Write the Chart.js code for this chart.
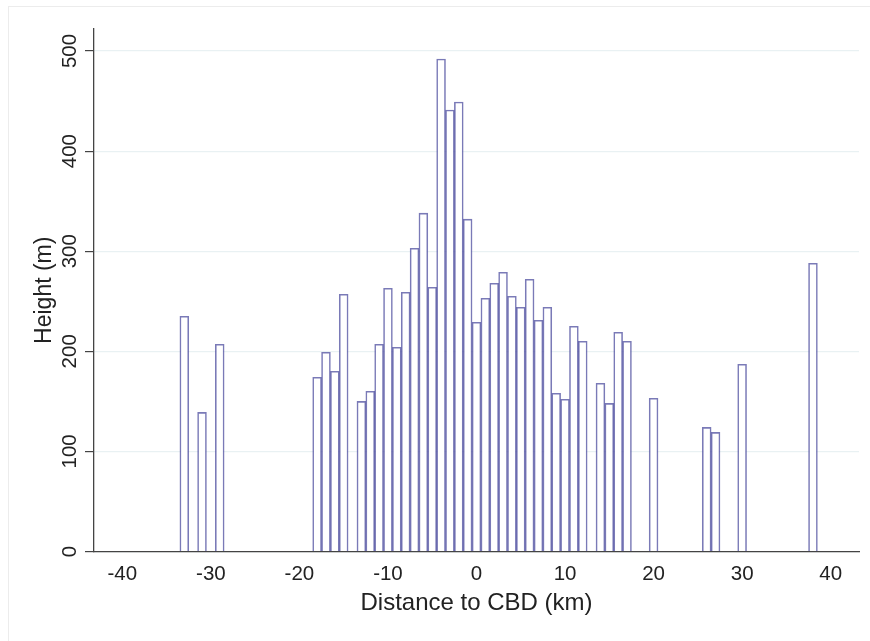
<!DOCTYPE html>
<html>
<head>
<meta charset="utf-8">
<script src="https://cdn.jsdelivr.net/npm/chart.js@4.4.1/dist/chart.umd.min.js"></script>
<style>
  html, body { margin: 0; padding: 0; background: #fff; }
  #wrap { width: 870px; height: 641px; position: relative; }
</style>
</head>
<body>
<div id="wrap"><canvas id="chart"></canvas></div>
<script>
// distance to CBD (km) and building height (m)
const distances = [-33, -31, -29, -18, -17, -16, -15, -13, -12, -11, -10, -9, -8, -7, -6, -5, -4, -3, -2, -1,
  0, 1, 2, 3, 4, 5, 6, 7, 8, 9, 10, 11, 12, 14, 15, 16, 17, 20, 26, 27, 30, 38];
const heights = [235, 139, 207, 174, 199, 180, 257, 150, 160, 207, 263, 204, 259, 303, 338, 264, 492, 441, 449, 332,
  229, 253, 268, 279, 255, 244, 272, 231, 244, 158, 152, 225, 210, 168, 148, 219, 210, 153, 124, 119, 187, 288];
const yTicks = [0, 100, 200, 300, 400, 500];
const xTitle = 'Distance to CBD (km)';
const yTitle = 'Height (m)';

const FONT = 'Liberation Sans, Arial, sans-serif';

// frame, y tick labels (rotated) and axis titles
const decor = {
  id: 'decor',
  beforeDraw(chart) {
    const ctx = chart.ctx;
    ctx.save();
    ctx.fillStyle = '#fff';
    ctx.fillRect(0, 0, chart.width, chart.height);
    ctx.strokeStyle = '#ececec';
    ctx.lineWidth = 1;
    ctx.strokeRect(8.5, 6.5, chart.width, chart.height);
    ctx.restore();
  },
  afterDraw(chart) {
    const ctx = chart.ctx;
    const y = chart.scales.y;
    const area = chart.chartArea;
    ctx.save();
    ctx.fillStyle = '#222';
    ctx.textAlign = 'center';
    ctx.textBaseline = 'middle';
    ctx.font = '20.5px ' + FONT;
    yTicks.forEach(v => {
      const py = y.getPixelForValue(v);
      ctx.save();
      ctx.translate(69, py);
      ctx.rotate(-Math.PI / 2);
      ctx.fillText(String(v), 0, 1);
      ctx.restore();
    });
    ctx.font = '23px ' + FONT;
    ctx.save();
    ctx.translate(45, (area.top + area.bottom) / 2);
    ctx.rotate(-Math.PI / 2);
    ctx.fillText(yTitle, 0, 0);
    ctx.restore();
    ctx.font = '24px ' + FONT;
    ctx.fillText(xTitle, (area.left + area.right) / 2, 603);
    ctx.restore();
  }
};

new Chart(document.getElementById('chart'), {
  type: 'bar',
  data: {
    datasets: [{
      data: distances.map((d, i) => ({ x: d, y: heights[i] })),
      backgroundColor: '#ffffff',
      borderColor: 'rgba(70, 70, 155, 0.72)',
      borderWidth: 1.6,
      borderSkipped: 'start',
      barPercentage: 1,
      categoryPercentage: 1
    }]
  },
  options: {
    responsive: true,
    maintainAspectRatio: false,
    animation: false,
    layout: { padding: { top: 29, right: 11, left: 0, bottom: 0 } },
    plugins: { legend: { display: false }, tooltip: { enabled: false } },
    scales: {
      x: {
        type: 'linear',
        offset: false,
        min: -43.2,
        max: 43.2,
        grid: { display: false, drawTicks: false, offset: false },
        border: { color: '#444', width: 1.3 },
        ticks: {
          stepSize: 10,
          includeBounds: false,
          padding: 11,
          color: '#222',
          font: { family: FONT, size: 20.5 }
        },
        afterFit: s => { s.height = 89.5; }
      },
      y: {
        min: 0,
        max: 522,
        grid: { color: '#e9f1f3', lineWidth: 1.2, tickColor: '#444', tickLength: 9 },
        border: { color: '#444', width: 1.3 },
        ticks: { stepSize: 100, includeBounds: false, display: false },
        afterFit: s => { s.width = 94; }
      }
    }
  },
  plugins: [decor]
});
</script>
</body>
</html>
